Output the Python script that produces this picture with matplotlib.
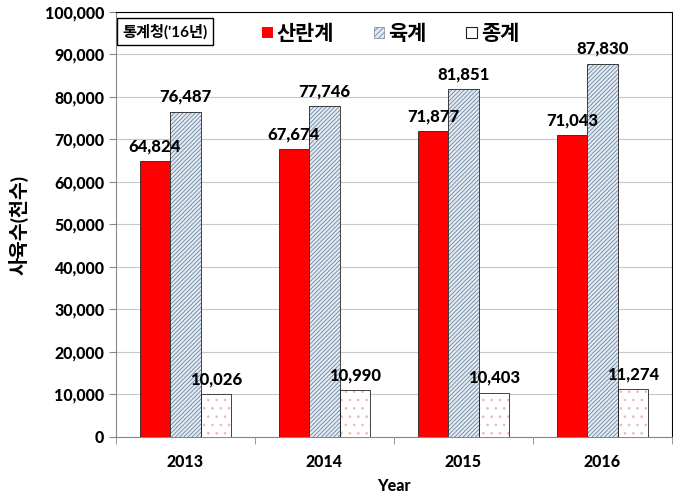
import matplotlib.pyplot as plt
from matplotlib.patches import Patch
from matplotlib.ticker import FuncFormatter, FixedLocator
import numpy as np

plt.rcParams['font.family'] = ['Lato', 'Noto Sans CJK KR', 'DejaVu Sans']
plt.rcParams['hatch.linewidth'] = 0.6

# data
years = ['2013', '2014', '2015', '2016']
layers = [64824, 67674, 71877, 71043]      # 산란계
broilers = [76487, 77746, 81851, 87830]    # 육계
breeders = [10026, 10990, 10403, 11274]    # 종계
series_names = ['산란계', '육계', '종계']

fig = plt.figure(figsize=(6.73, 4.96), dpi=100)
ax = fig.add_axes([0.1724, 0.119, 0.826, 0.857])

x = np.arange(len(years))
w = 0.22
pos = [x - w, x, x + w]

# red bars
ax.bar(pos[0], layers, w, color='#ff0000', edgecolor='#222222', linewidth=0.6, zorder=3)
# hatched light blue bars (hatch drawn in edge colour, outline on top)
ax.bar(pos[1], broilers, w, color='#e2ebf5', edgecolor='#6f8599', hatch='////////', linewidth=0, zorder=3)
ax.bar(pos[1], broilers, w, fill=False, edgecolor='#222222', linewidth=0.6, zorder=4)
# dotted bars
ax.bar(pos[2], breeders, w, color='white', edgecolor='#f0b4b4', hatch='..', linewidth=0, zorder=3)
ax.bar(pos[2], breeders, w, fill=False, edgecolor='#222222', linewidth=0.6, zorder=4)

# value labels
for vals, p in zip([layers, broilers, breeders], pos):
    for xi, v in zip(p, vals):
        ax.annotate(f'{v:,}', (xi, v), xytext=(0, 5), textcoords='offset points',
                    ha='center', va='bottom', fontsize=12, fontweight='black', zorder=5)

ax.set_ylim(0, 100000)
ax.set_xlim(-0.5, 3.5)
ax.yaxis.set_major_locator(FixedLocator(np.arange(0, 100001, 10000)))
ax.yaxis.set_major_formatter(FuncFormatter(lambda v, _: f'{int(v):,}'))
ax.grid(axis='y', color='#c8c8c8', linewidth=0.8, zorder=0)
ax.set_axisbelow(True)

ax.set_xticks(x)
ax.set_xticklabels(years, fontsize=11.5, fontweight='black')
ax.xaxis.set_minor_locator(FixedLocator(np.arange(-0.5, 4, 1)))
ax.tick_params(axis='x', which='major', length=0, pad=12)
ax.tick_params(axis='x', which='minor', length=5, color='#888888')
ax.tick_params(axis='y', length=5, color='#888888', labelsize=11.5)
for lab in ax.get_yticklabels():
    lab.set_fontweight('black')

for side in ['top', 'right']:
    ax.spines[side].set_color('black')
ax.spines['left'].set_color('#888888')
ax.spines['bottom'].set_color('#888888')

ax.set_xlabel('Year', fontsize=11.5, fontweight='black', labelpad=6)
ax.set_ylabel('사육수(천수)', fontsize=14, fontweight='bold', labelpad=12)

# source box
ax.text(0.012, 0.954, "통계청('16년)", transform=ax.transAxes, fontsize=11, fontweight='bold',
        ha='left', va='center', zorder=6,
        bbox=dict(boxstyle='square,pad=0.35', facecolor='white', edgecolor='black', linewidth=1))

handles = [Patch(facecolor='#ff0000', edgecolor='none'),
           Patch(facecolor='#e2ebf5', edgecolor='#6f8599', hatch='//////', linewidth=0.5),
           Patch(facecolor='white', edgecolor='#222222', linewidth=0.8)]
leg = ax.legend(handles, series_names, ncol=3, loc='upper left', bbox_to_anchor=(0.263, 0.974),
                frameon=False, borderaxespad=0, borderpad=0,
                handlelength=0.5, handleheight=0.5, handletextpad=0.2,
                columnspacing=1.9, prop={'size': 15, 'weight': 'bold', 'family': ['Noto Sans CJK KR']})

fig.savefig('out.png', dpi=100)
